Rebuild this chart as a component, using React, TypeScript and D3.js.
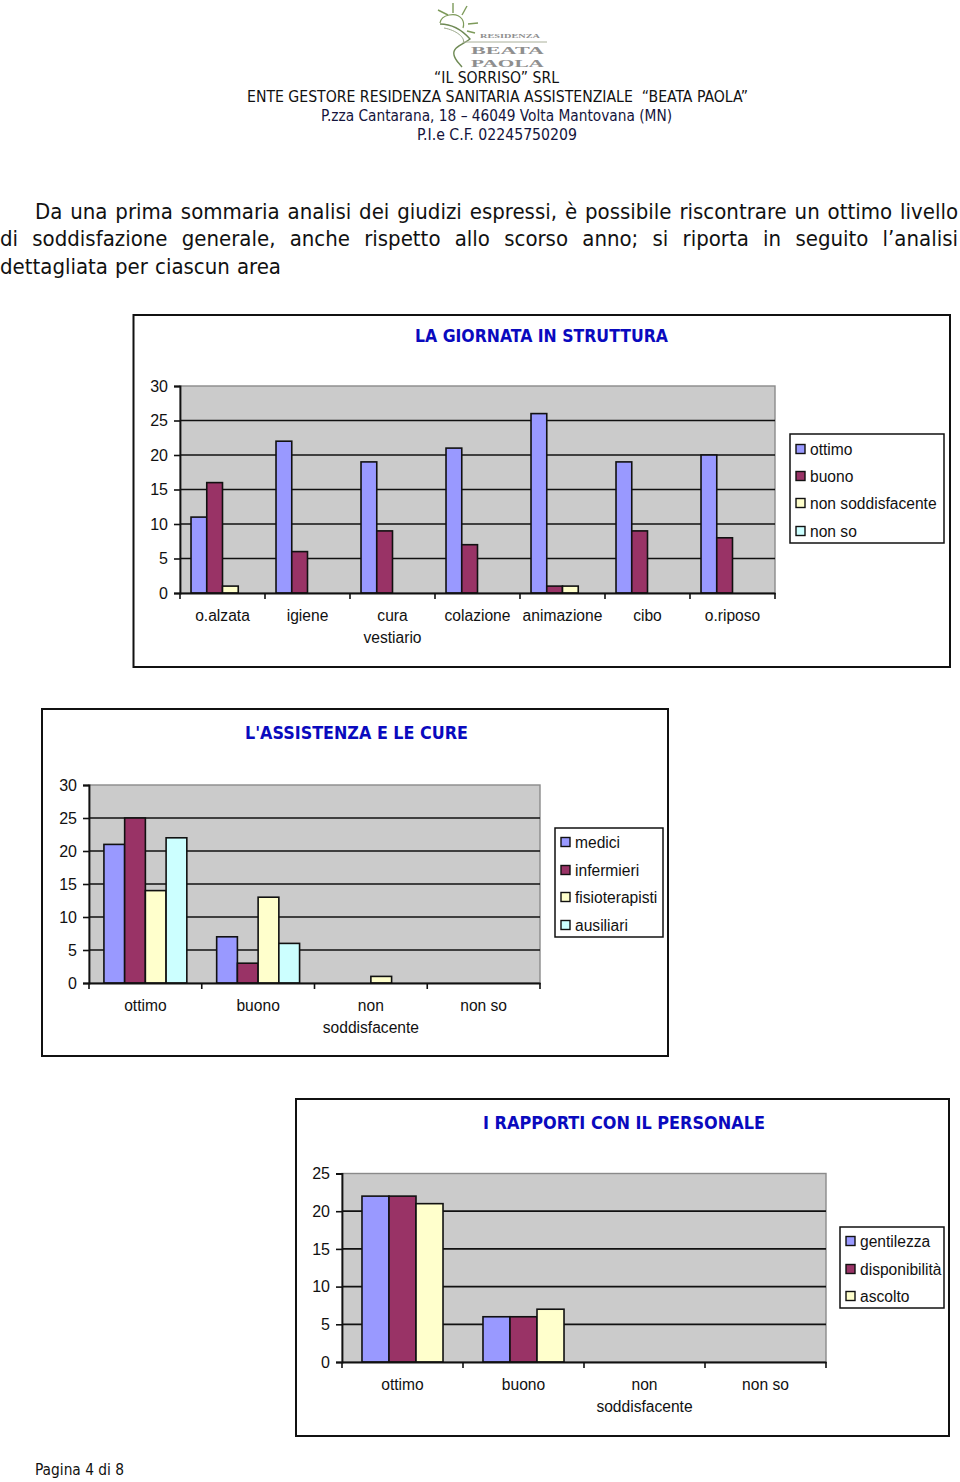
import React, { useEffect, useRef } from "react";
import * as d3 from "d3";

// first chart
const dayCategories = ["o.alzata", "igiene", "cura vestiario", "colazione", "animazione", "cibo", "o.riposo"];
const dayLegend = ["ottimo", "buono", "non soddisfacente", "non so"];
const dayOttimo = [11, 22, 19, 21, 26, 19, 20];
const dayBuono = [16, 6, 9, 7, 1, 9, 8];
const dayNonSodd = [1, 0, 0, 0, 1, 0, 0];
const dayNonSo = [0, 0, 0, 0, 0, 0, 0];

// second chart
const ratingCategories = ["ottimo", "buono", "non soddisfacente", "non so"];
const careLegend = ["medici", "infermieri", "fisioterapisti", "ausiliari"];
const careMedici = [21, 7, 0, 0];
const careInfermieri = [25, 3, 0, 0];
const careFisio = [14, 13, 1, 0];
const careAusiliari = [22, 6, 0, 0];

// third chart
const staffLegend = ["gentilezza", "disponibilità", "ascolto"];
const staffGentilezza = [22, 6, 0, 0];
const staffDisponibilita = [22, 6, 0, 0];
const staffAscolto = [21, 7, 0, 0];

const ticks30 = [0, 5, 10, 15, 20, 25, 30];
const ticks25 = [0, 5, 10, 15, 20, 25];

const colors = ["#9999FF", "#993366", "#FFFFCC", "#CCFFFF"];

const headerLines = [
  "“IL SORRISO” SRL",
  "ENTE GESTORE RESIDENZA SANITARIA ASSISTENZIALE  “BEATA PAOLA”",
  "P.zza Cantarana, 18 – 46049 Volta Mantovana (MN)",
  "P.I.e C.F. 02245750209",
];
const paragraphLines = [
  "Da una prima sommaria analisi dei giudizi espressi, è possibile riscontrare un ottimo livello",
  "di soddisfazione generale, anche rispetto allo scorso anno; si riporta in seguito l’analisi",
  "dettagliata per ciascun area",
];

const tahoma = "'DejaVu Sans Condensed', 'DejaVu Sans', sans-serif";
const arial = "'Liberation Sans', Arial, sans-serif";
const ink = "#111";

const charts = [
  {
    title: "LA GIORNATA IN STRUTTURA",
    titleBox: [415, 253, 342],
    box: [133.5, 315, 816.5, 352],
    plot: [180, 386, 775, 593],
    max: 30,
    ticks: ticks30,
    categories: dayCategories,
    legend: dayLegend,
    series: [dayOttimo, dayBuono, dayNonSodd, dayNonSo],
    gap: 0.7,
    legendBox: [790, 434, 154, 109],
    legendRows: [449, 476, 503, 531],
  },
  {
    title: "L'ASSISTENZA E LE CURE",
    titleBox: [245, 223, 739],
    box: [42, 709, 626, 347],
    plot: [89, 785, 540, 983],
    max: 30,
    ticks: ticks30,
    categories: ratingCategories,
    legend: careLegend,
    series: [careMedici, careInfermieri, careFisio, careAusiliari],
    gap: 0.72,
    legendBox: [555, 828, 108, 109],
    legendRows: [842, 870, 897, 925],
  },
  {
    title: "I RAPPORTI CON IL PERSONALE",
    titleBox: [483, 282, 1129],
    box: [296, 1099, 653, 337],
    plot: [342, 1173.5, 826, 1362],
    max: 25,
    ticks: ticks25,
    categories: ratingCategories,
    legend: staffLegend,
    series: [staffGentilezza, staffDisponibilita, staffAscolto],
    gap: 0.74,
    legendBox: [840, 1227, 104, 81],
    legendRows: [1241, 1269, 1296],
  },
];

function drawChart(svg: any, c: (typeof charts)[number]) {
  const g = svg.append("g").attr("font-family", arial).attr("font-size", 15.6).attr("fill", ink);
  const [px0, py0, px1, py1] = c.plot;

  g.append("rect")
    .attr("x", c.box[0]).attr("y", c.box[1]).attr("width", c.box[2]).attr("height", c.box[3])
    .attr("fill", "#fff").attr("stroke", ink).attr("stroke-width", 2);

  g.append("text")
    .attr("x", c.titleBox[0]).attr("y", c.titleBox[2])
    .attr("textLength", c.titleBox[1]).attr("lengthAdjust", "spacingAndGlyphs")
    .attr("font-family", tahoma).attr("font-weight", "bold").attr("font-size", 18)
    .attr("fill", "#0A0ABE")
    .text(c.title);

  const y = d3.scaleLinear().domain([0, c.max]).range([py1, py0]);
  const x = d3.scaleBand().domain(c.categories).range([px0, px1]);
  const inner = d3.scaleBand()
    .domain(d3.range(c.series.length).map(String))
    .range([0, x.bandwidth()])
    .paddingOuter(c.gap);

  g.append("rect")
    .attr("x", px0).attr("y", py0).attr("width", px1 - px0).attr("height", py1 - py0)
    .attr("fill", "#CBCBCB").attr("stroke", "#8a8a8a").attr("stroke-width", 1.4);

  g.append("g").selectAll("line")
    .data(c.ticks.filter((t) => t > 0 && t < c.max))
    .join("line")
    .attr("x1", px0).attr("x2", px1)
    .attr("y1", (d: number) => y(d)).attr("y2", (d: number) => y(d))
    .attr("stroke", ink).attr("stroke-width", 1.7);

  c.series.forEach((values, i) => {
    g.append("g").selectAll("rect")
      .data(values.map((v, j) => ({ v, cat: c.categories[j] })).filter((d) => d.v > 0))
      .join("rect")
      .attr("x", (d: any) => x(d.cat)! + inner(String(i))!)
      .attr("y", (d: any) => y(d.v))
      .attr("width", inner.bandwidth())
      .attr("height", (d: any) => py1 - y(d.v))
      .attr("fill", colors[i])
      .attr("stroke", ink).attr("stroke-width", 1.6);
  });

  // axes
  const yAxis = g.append("g").attr("transform", `translate(${px0},0)`)
    .call(d3.axisLeft(y).tickValues(c.ticks).tickSize(6).tickPadding(6).tickFormat(d3.format("d")));
  const xAxis = g.append("g").attr("transform", `translate(0,${py1})`)
    .call(d3.axisBottom(x).tickSize(0).tickFormat(() => ""));
  for (const a of [yAxis, xAxis]) {
    a.selectAll("line").attr("stroke", ink).attr("stroke-width", 1.6);
    a.select(".domain").attr("stroke", ink).attr("stroke-width", 1.8);
  }
  yAxis.selectAll("text").attr("font-family", arial).attr("font-size", 16).attr("fill", ink).attr("dy", "0.32em");

  // Excel puts the ticks between the categories
  g.append("g").selectAll("line")
    .data(c.categories.map((cat) => x(cat)!).concat(px1))
    .join("line")
    .attr("x1", (d: number) => d).attr("x2", (d: number) => d)
    .attr("y1", py1).attr("y2", py1 + 6)
    .attr("stroke", ink).attr("stroke-width", 1.6);

  c.categories.forEach((cat) => {
    const words = cat === "cura vestiario" || cat === "non soddisfacente" ? cat.split(" ") : [cat];
    words.forEach((w, k) => {
      g.append("text")
        .attr("x", x(cat)! + x.bandwidth() / 2)
        .attr("y", py1 + 28 + k * 21.5)
        .attr("text-anchor", "middle")
        .text(w);
    });
  });

  // legend
  const [lx, ly, lw, lh] = c.legendBox;
  g.append("rect").attr("x", lx).attr("y", ly).attr("width", lw).attr("height", lh)
    .attr("fill", "#fff").attr("stroke", ink).attr("stroke-width", 1.5);
  c.legend.forEach((name, i) => {
    g.append("rect")
      .attr("x", lx + 6).attr("y", c.legendRows[i] - 4.5).attr("width", 9).attr("height", 9)
      .attr("fill", colors[i]).attr("stroke", ink).attr("stroke-width", 1.4);
    g.append("text").attr("x", lx + 20).attr("y", c.legendRows[i] + 5.5).text(name);
  });
}

function drawPageText(svg: any) {
  const header = svg.append("g").attr("font-family", tahoma).attr("font-size", 16).attr("fill", ink);
  const headerPos = [
    [434, 125, 83],
    [247, 501, 102],
    [321, 351, 121],
    [417, 160, 140],
  ];
  headerLines.forEach((line, i) => {
    header.append("text")
      .attr("x", headerPos[i][0]).attr("y", headerPos[i][2])
      .attr("textLength", headerPos[i][1]).attr("lengthAdjust", "spacingAndGlyphs")
      .attr("fill", i >= 2 ? "#14143c" : ink)
      .attr("xml:space", "preserve")
      .text(line);
  });

  // justified paragraph: spread the spaces to reach the right margin
  const para = svg.append("g").attr("font-family", tahoma).attr("font-size", 22).attr("fill", ink);
  const paraPos = [
    [35, 958, 219],
    [0, 958, 246],
    [0, 281, 274],
  ];
  paragraphLines.forEach((line, i) => {
    const t = para.append("text").attr("x", paraPos[i][0]).attr("y", paraPos[i][2]).text(line);
    const w = t.node().getComputedTextLength();
    const gaps = line.split(" ").length - 1;
    t.attr("word-spacing", (paraPos[i][1] - paraPos[i][0] - w) / gaps);
  });

  svg.append("text")
    .attr("x", 35).attr("y", 1475)
    .attr("textLength", 89).attr("lengthAdjust", "spacingAndGlyphs")
    .attr("font-family", tahoma).attr("font-size", 16).attr("fill", ink)
    .text("Pagina 4 di 8");
}

function drawLogo(svg: any) {
  const g = svg.append("g").attr("fill", "none");
  const green = "#7d9a5a";
  const line = d3.line();
  // sun, rays and the road
  g.append("path").attr("d", "M440,23 C441,15 456,11 462,19 C464,22 464,25 463,28").attr("stroke", green).attr("stroke-width", 1.2);
  [
    [[438, 10], [448, 15]],
    [[453, 3], [453, 13]],
    [[467, 6], [462, 15]],
    [[478, 23], [468, 24]],
    [[475, 33], [467, 31]],
  ].forEach((r) => g.append("path").attr("d", line(r as any)).attr("stroke", green).attr("stroke-width", 1.4));
  g.append("path").attr("d", "M440,24 C452,24 462,30 470,39 C464,44 452,47 454,55 C455,60 458,62 462,67").attr("stroke", "#6f8a55").attr("stroke-width", 1.4);
  g.append("path").attr("d", "M444,28 C456,30 466,38 463,43").attr("stroke", "#9aa88a").attr("stroke-width", 1);
  g.append("line").attr("x1", 463).attr("x2", 547).attr("y1", 42).attr("y2", 42).attr("stroke", "#aab09a").attr("stroke-width", 1);

  const serif = "'Liberation Serif', serif";
  const logoWords: [string, number, number, number, number][] = [
    ["RESIDENZA", 480, 60, 38, 7],
    ["BEATA", 471, 73, 53.5, 11],
    ["PAOLA", 471, 73, 66.5, 11],
  ];
  logoWords.forEach(([word, lx, lw, ly, size]) => {
    g.append("text")
      .attr("x", lx).attr("y", ly)
      .attr("textLength", lw).attr("lengthAdjust", "spacingAndGlyphs")
      .attr("font-family", serif).attr("font-size", size).attr("font-weight", "bold")
      .attr("fill", "#8f8f8f")
      .text(word);
  });
}

export default function App() {
  const svgRef = useRef<SVGSVGElement>(null);

  useEffect(() => {
    const svg = d3.select(svgRef.current);
    svg.selectAll("*").remove();
    drawLogo(svg);
    drawPageText(svg);
    charts.forEach((c) => drawChart(svg, c));
  }, []);

  return (
    <svg
      ref={svgRef}
      width={960}
      height={1482}
      style={{ position: "absolute", left: 0, top: 0, background: "#fff" }}
    />
  );
}
